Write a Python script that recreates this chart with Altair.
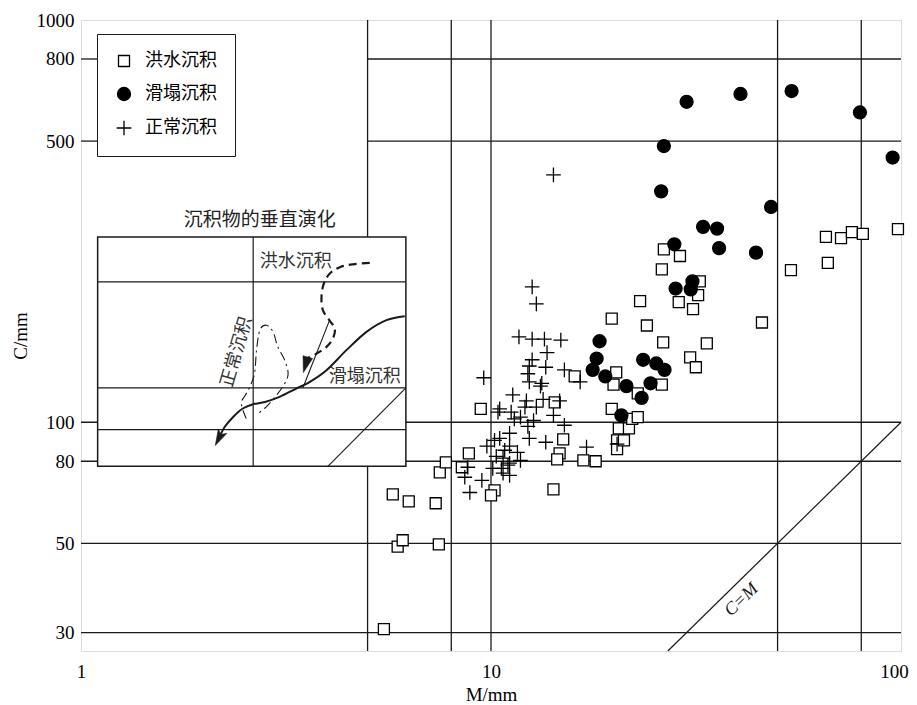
import altair as alt
import pandas as pd

# ---------------- data ----------------
categories = ["洪水沉积", "滑塌沉积", "正常沉积"]

flood_M = [5.48, 5.76, 6.30, 5.92, 6.09, 7.33, 7.46, 7.50, 7.76, 8.49, 8.83, 9.44, 10.2, 10.0,
           14.2, 15.0, 14.7, 14.5, 16.8, 18.0, 16.0, 14.3, 19.7, 20.2, 19.9, 20.5, 20.3, 20.3,
           21.1, 21.7, 22.1, 22.8, 22.8, 26.1, 26.3, 30.6, 31.6, 33.6, 26.4, 28.9, 26.1, 32.3,
           32.0, 28.7, 31.1, 23.1, 19.7, 24.0, 45.8, 53.9, 66.3, 65.6, 71.4, 75.9, 80.7, 98.3]
flood_C = [30.6, 66.2, 63.6, 49.1, 50.9, 62.9, 49.7, 75.1, 79.5, 77.3, 83.7, 108, 67.7, 65.8,
           68.1, 90.7, 83.7, 80.9, 80.4, 80.0, 130, 112, 108, 133, 124, 96.6, 90.2, 85.7,
           90.2, 96.6, 102, 103, 118, 124, 158, 145, 137, 157, 269, 259, 240, 224,
           207, 199, 191, 200, 181, 174, 177, 239, 249, 289, 287, 297, 294, 302]

slump_M = [30.0, 40.6, 54.1, 79.4, 95.4, 26.4, 26.0, 48.2, 32.9, 35.6, 28.0, 36.0, 44.3, 31.0,
           28.2, 30.7, 18.4, 18.1, 17.7, 19.0, 21.4, 23.3, 24.5, 23.5, 25.3, 26.5, 20.8]
slump_C = [626, 655, 666, 589, 455, 486, 375, 343, 306, 303, 277, 271, 264, 224,
           215, 214, 159, 144, 135, 130, 123, 115, 125, 143, 140, 135, 104]

normal_M = [14.2, 12.6, 12.9, 11.7, 12.6, 13.5, 14.8, 13.7, 12.6, 12.4, 13.6, 12.3, 15.1, 16.5,
            9.6, 13.3, 12.4, 13.2, 11.3, 12.2, 13.4, 14.7, 12.9, 12.1, 10.5, 10.4, 11.2, 11.8,
            12.7, 14.2, 15.1, 12.3, 11.4, 11.1, 10.5, 12.4, 9.77, 11.1, 11.6, 13.6, 17.1, 20.3,
            10.3, 10.7, 11.8, 11.1, 8.78, 10.1, 10.6, 8.63, 9.50, 11.1, 8.88, 10.8, 10.2, 11.0, 10.7]
normal_C = [412, 217, 197, 163, 161, 161, 160, 149, 143, 138, 137, 132, 135, 126,
            129, 125, 126, 123, 117, 113, 114, 113, 109, 109, 108, 106, 106, 103,
            101, 104, 98.3, 97.7, 102, 93.9, 91.2, 91.2, 87.2, 87.2, 84.2, 89.2, 86.7, 88.2,
            82.3, 81.4, 80.4, 79.1, 77.3, 76.8, 76.8, 73.0, 71.7, 73.8, 66.9, 85.2, 90.2, 78.2, 74.7]

x_ticks = [1, 10, 100]
y_ticks = [30, 50, 80, 100, 500, 800, 1000]

# reference lines of the diagram
grid_v = [5, 8, 10, 50, 80]
grid_h_full = [30, 50, 80, 100]
grid_h_upper = [500, 800]
grid_h_upper_from = 5
tick_end_M = 1.094
cm_line_M = [27, 100]
cm_line_C = [27, 100]
cm_label = ("C=M", 40.8, 36.2, 315.6)

# inset schematic (in the diagram's own M–C coordinates)
inset_box_M = [1.098, 6.20]
inset_box_C = [77.7, 288.9]
inset_v = [2.63]
inset_h = [223.4, 121.7, 95.9]
inset_diag_M = [6.20, 4.00]
inset_diag_C = [121.7, 77.7]

flood_path_M = [5.06, 4.61, 4.28, 4.04, 3.91, 3.86, 3.89, 4.04, 4.16, 4.12, 3.97, 3.75, 3.55]
flood_path_C = [249, 247, 243, 234, 221, 205, 190, 179, 171, 162, 154, 148, 144]
slump_path_M = [6.16, 5.56, 4.97, 4.44, 3.97, 3.61, 3.35, 3.05, 2.81, 2.63, 2.48, 2.35, 2.24, 2.18]
slump_path_C = [183.5, 179.4, 167.8, 151.1, 134.7, 125.9, 121.3, 115.6, 112.3, 110.9, 108.2, 103.1, 97.3, 91.9]
normal_path_M = [2.53, 2.46, 2.52, 2.58, 2.65, 2.68, 2.73, 2.83, 2.94, 3.02, 3.14, 3.20, 3.14, 3.00, 2.83, 2.70]
normal_path_C = [102.1, 111.3, 117.0, 122.4, 132.2, 151.1, 169.4, 174.3, 167.8, 154.0, 142.6, 132.2, 124.9, 116.8, 109.2, 105.1]
thin_path_M = [3.48, 4.04]
thin_path_C = [122.0, 179.4]
arrow_M = [3.53, 2.17]
arrow_C = [138.9, 91.2]
arrow_angle = [196, 207]

inset_title = ("沉积物的垂直演化", 2.73, 318.0)
inset_labels = ["洪水沉积", "滑塌沉积", "正常沉积"]
inset_label_M = [3.34, 4.92, 2.40]
inset_label_C = [250.0, 129.4, 149.3]
inset_label_angle = [0, 0, 286]

# ---------------- styling ----------------
SERIF = "Liberation Serif"
CJK = "Noto Sans CJK SC"
INK = "#1a1a1a"
CROSS = "M-1,0H1M0,-1V1"
TRI = "M0,-1L-0.62,1L0.62,1Z"
BARB = "M0,-1L-0.6,1L0,0.55L0.6,1Z"
arrow_shape = [TRI, BARB]

xs = alt.Scale(type="log", domain=[1, 100], nice=False)
ys = alt.Scale(type="log", domain=[27, 1000], nice=False)

x_axis = alt.Axis(values=x_ticks, format="d", title="M/mm", grid=False, ticks=False, tickSize=0,
                  domain=False, labelFont=SERIF, labelFontSize=19, labelColor="black",
                  labelPadding=11, labelFlush=False, labelOverlap=False,
                  labelOffset={"condition": {"test": "datum.value === 100", "value": -7}, "value": 0},
                  titleFont=SERIF, titleFontSize=19, titleFontWeight="normal",
                  titleColor="black", titlePadding=4)
y_axis = alt.Axis(values=y_ticks, format="d", title="C/mm", grid=False, ticks=False, tickSize=0,
                  domain=False, labelFont=SERIF, labelFontSize=19, labelColor="black",
                  labelPadding=7, labelFlush=False, labelOverlap=False,
                  titleFont=SERIF, titleFontSize=19, titleFontWeight="normal",
                  titleColor="black", titlePadding=6)

X = alt.X("M:Q", scale=xs, axis=x_axis)
Y = alt.Y("C:Q", scale=ys, axis=y_axis)

# ---------------- tables ----------------
pts = pd.DataFrame({
    "M": flood_M + slump_M + normal_M,
    "C": flood_C + slump_C + normal_C,
    "type": [categories[0]] * len(flood_M) + [categories[1]] * len(slump_M) + [categories[2]] * len(normal_M),
})

h_rows = [{"C": c, "M": 1, "M2": 100} for c in grid_h_full]
h_rows += [{"C": c, "M": grid_h_upper_from, "M2": 100} for c in grid_h_upper]
h_rows += [{"C": c, "M": 1, "M2": tick_end_M} for c in grid_h_upper]
hdf = pd.DataFrame(h_rows)
vdf = pd.DataFrame({"M": grid_v, "C": [27] * len(grid_v), "C2": [1000] * len(grid_v)})

def path_df(ms, cs):
    return pd.DataFrame({"M": ms, "C": cs, "i": list(range(len(ms)))})

hrules = alt.Chart(hdf).mark_rule(color=INK, strokeWidth=1.3).encode(x=X, x2="M2:Q", y=Y)
vrules = alt.Chart(vdf).mark_rule(color=INK, strokeWidth=1.3).encode(x=X, y=Y, y2="C2:Q")

cm_line = alt.Chart(path_df(cm_line_M, cm_line_C)).mark_line(color=INK, strokeWidth=1.2).encode(
    x=X, y=Y, order="i:Q")
cm_text = alt.Chart(pd.DataFrame({"M": [cm_label[1]], "C": [cm_label[2]], "t": [cm_label[0]]})).mark_text(
    font=SERIF, fontSize=18, fontStyle="italic", angle=cm_label[3], color=INK).encode(x=X, y=Y, text="t:N")

# inset
inset_rect = alt.Chart(pd.DataFrame({"M": [inset_box_M[0]], "M2": [inset_box_M[1]],
                                     "C": [inset_box_C[0]], "C2": [inset_box_C[1]]})).mark_rect(
    fill="white", stroke=INK, strokeWidth=1.5).encode(x=X, x2="M2:Q", y=Y, y2="C2:Q")
inset_h_rules = alt.Chart(pd.DataFrame({"C": inset_h, "M": [inset_box_M[0]] * len(inset_h),
                                        "M2": [inset_box_M[1]] * len(inset_h)})).mark_rule(
    color=INK, strokeWidth=1.2).encode(x=X, x2="M2:Q", y=Y)
inset_v_rules = alt.Chart(pd.DataFrame({"M": inset_v, "C": [inset_box_C[0]] * len(inset_v),
                                        "C2": [inset_box_C[1]] * len(inset_v)})).mark_rule(
    color=INK, strokeWidth=1.2).encode(x=X, y=Y, y2="C2:Q")
inset_diag = alt.Chart(path_df(inset_diag_M, inset_diag_C)).mark_line(color=INK, strokeWidth=1.1).encode(
    x=X, y=Y, order="i:Q")

flood_curve = alt.Chart(path_df(flood_path_M, flood_path_C)).mark_line(
    color=INK, strokeWidth=2.2, strokeDash=[8, 5], interpolate="cardinal").encode(x=X, y=Y, order="i:Q")
slump_curve = alt.Chart(path_df(slump_path_M, slump_path_C)).mark_line(
    color=INK, strokeWidth=2.0, interpolate="cardinal").encode(x=X, y=Y, order="i:Q")
normal_curve = alt.Chart(path_df(normal_path_M, normal_path_C)).mark_line(
    color=INK, strokeWidth=1.1, strokeDash=[9, 4, 2, 4], interpolate="cardinal").encode(x=X, y=Y, order="i:Q")
thin_curve = alt.Chart(path_df(thin_path_M, thin_path_C)).mark_line(
    color=INK, strokeWidth=1.1, interpolate="monotone").encode(x=X, y=Y, order="i:Q")
arrows = alt.Chart(pd.DataFrame({"M": arrow_M, "C": arrow_C, "a": arrow_angle, "s": arrow_shape})).mark_point(
    filled=True, fill=INK, stroke=INK, strokeWidth=0.5, size=260, opacity=1).encode(
    x=X, y=Y, angle=alt.Angle("a:Q", scale=None), shape=alt.Shape("s:N", scale=None))

inset_title_t = alt.Chart(pd.DataFrame({"M": [inset_title[1]], "C": [inset_title[2]], "t": [inset_title[0]]})).mark_text(
    font=CJK, fontSize=19, color="#222").encode(x=X, y=Y, text="t:N")
inset_label_t = alt.Chart(pd.DataFrame({"M": inset_label_M, "C": inset_label_C, "t": inset_labels,
                                        "a": inset_label_angle})).mark_text(
    font=CJK, fontSize=18, color="#333").encode(x=X, y=Y, text="t:N", angle=alt.Angle("a:Q", scale=None))

legend = alt.Legend(title=None, orient="none", legendX=16, legendY=14, fillColor="white",
                    strokeColor=INK, padding=18, labelFont=CJK, labelFontSize=18, labelColor="black",
                    labelOffset=12, rowPadding=14, symbolStrokeWidth=1.3)

points = alt.Chart(pts).mark_point(filled=True, strokeWidth=1.3, opacity=1).encode(
    x=X, y=Y,
    fill=alt.Fill("type:N", scale=alt.Scale(domain=categories, range=["white", "black", "transparent"]), legend=legend),
    stroke=alt.Stroke("type:N", scale=alt.Scale(domain=categories, range=["black", "black", "black"]), legend=legend),
    shape=alt.Shape("type:N", scale=alt.Scale(domain=categories, range=["square", "circle", CROSS]), legend=legend),
    size=alt.Size("type:N", scale=alt.Scale(domain=categories, range=[121, 215, 256]), legend=legend),
)

chart = alt.layer(
    hrules, vrules, cm_line, cm_text,
    inset_rect, inset_h_rules, inset_v_rules, inset_diag,
    normal_curve, thin_curve, flood_curve, slump_curve, arrows,
    inset_title_t, inset_label_t,
    points,
).properties(
    width=820, height=631,
    autosize=alt.AutoSizeParams(type="none"),
    padding={"left": 73, "top": 12, "right": 8, "bottom": 54},
).configure_view(stroke=INK, strokeWidth=1.6).configure(background="white")

chart.save("out.html", embed_options={"renderer": "svg", "actions": False})
